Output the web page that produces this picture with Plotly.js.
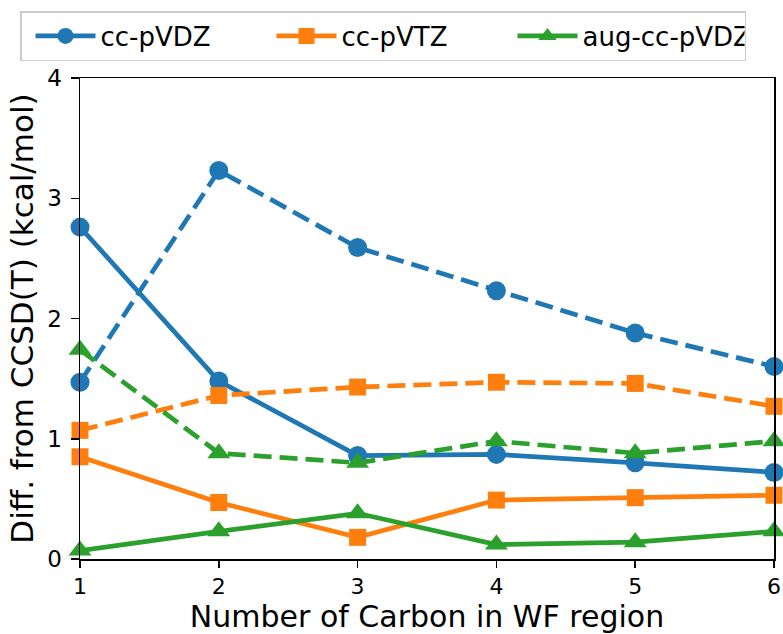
<!DOCTYPE html>
<html>
<head>
<meta charset="utf-8">
<script src="https://cdn.plot.ly/plotly-3.0.1.min.js"></script>
<style>
html,body{margin:0;padding:0;background:#fff;}
#chart{width:783px;height:634px;}
</style>
</head>
<body>
<div id="chart"></div>
<script>
const nCarbon = [1, 2, 3, 4, 5, 6];
const seriesNames = ["cc-pVDZ", "cc-pVTZ", "aug-cc-pVDZ"];
const ccpVDZ_solid = [2.76, 1.48, 0.86, 0.87, 0.80, 0.72];
const ccpVTZ_solid = [0.85, 0.47, 0.18, 0.49, 0.51, 0.53];
const augccpVDZ_solid = [0.07, 0.23, 0.38, 0.12, 0.14, 0.23];
const ccpVDZ_dashed = [1.47, 3.23, 2.59, 2.23, 1.88, 1.60];
const ccpVTZ_dashed = [1.07, 1.36, 1.43, 1.47, 1.46, 1.27];
const augccpVDZ_dashed = [1.74, 0.88, 0.80, 0.98, 0.88, 0.98];
const xTicks = [1, 2, 3, 4, 5, 6];
const yTicks = [0, 1, 2, 3, 4];

const colors = ["#1f77b4", "#ff7f0e", "#2ca02c"];
const symbols = ["circle", "square", "triangle-up"];
const msize = [19, 17, 20];
const LW = 4.7;

function tr(y, i, dashed) {
  return {
    x: nCarbon, y: y, type: "scatter", mode: "lines+markers",
    name: seriesNames[i], showlegend: !dashed, cliponaxis: false,
    line: {color: colors[i], width: LW, dash: dashed ? "18px,8px" : "solid"},
    marker: {color: colors[i], symbol: symbols[i], size: msize[i], line: {width: 0}}
  };
}

const data = [
  tr(ccpVDZ_solid, 0, false),
  tr(ccpVTZ_solid, 1, false),
  tr(augccpVDZ_solid, 2, false),
  tr(ccpVDZ_dashed, 0, true),
  tr(ccpVTZ_dashed, 1, true),
  tr(augccpVDZ_dashed, 2, true)
];

const W = 783, H = 634, ML = 80, MR = 9, MT = 78, MB = 75;
const PW = W - ML - MR, PH = H - MT - MB;

const layout = {
  width: W, height: H,
  margin: {l: ML, r: MR, t: MT, b: MB, pad: 0, autoexpand: false},
  paper_bgcolor: "#fff", plot_bgcolor: "#fff",
  font: {family: "DejaVu Sans", color: "#000"},
  showlegend: true,
  legend: {
    orientation: "h", xref: "paper", yref: "paper",
    x: (20 - ML) / PW, y: 1 + (MT - 11) / PH, xanchor: "left", yanchor: "top",
    bordercolor: "#cccccc", borderwidth: 1.5, bgcolor: "rgba(255,255,255,0.8)",
    font: {size: 26, family: "DejaVu Sans", color: "#000"},
    entrywidth: 157, itemwidth: 60, indentation: 9, traceorder: "normal"
  },
  xaxis: {
    range: [1, 6], tickvals: xTicks, ticktext: xTicks.map(String),
    showgrid: false, zeroline: false, showline: true, linecolor: "#000", linewidth: 1.5,
    mirror: true, ticks: "outside", ticklen: 7, tickwidth: 1.5, tickcolor: "#000",
    tickfont: {size: 22, family: "DejaVu Sans", color: "#000"},
    title: {text: "Number of Carbon in WF region", font: {size: 30, family: "DejaVu Sans", color: "#000"}, standoff: 6}
  },
  yaxis: {
    range: [0, 4], tickvals: yTicks, ticktext: yTicks.map(String),
    showgrid: false, zeroline: false, showline: true, linecolor: "#000", linewidth: 1.5,
    mirror: true, ticks: "outside", ticklen: 8, tickwidth: 1.5, tickcolor: "#000",
    ticklabelstandoff: 4,
    tickfont: {size: 23, family: "DejaVu Sans", color: "#000"},
    title: {text: "Diff. from CCSD(T) (kcal/mol)", font: {size: 31, family: "DejaVu Sans", color: "#000"}, standoff: 4}
  }
};

Plotly.newPlot("chart", data, layout, {displayModeBar: false, staticPlot: true});
</script>
</body>
</html>
